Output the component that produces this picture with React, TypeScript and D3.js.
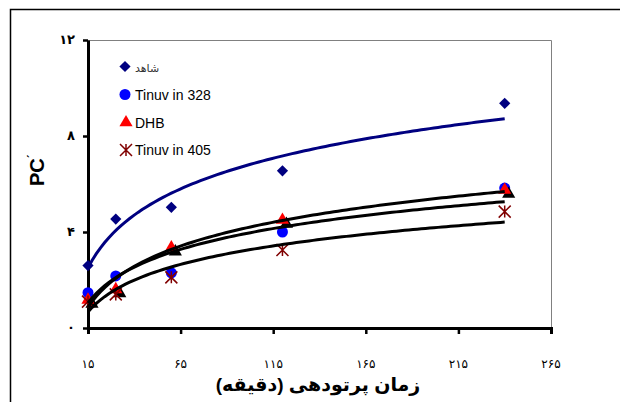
import React, { useEffect, useRef } from "react";
import * as d3 from "d3";

// irradiation time (minutes)
const times = [15, 30, 60, 120, 240];
// PC values per sample
const control = [2.6, 4.54, 5.03, 6.55, 9.36];
const tinuvin328 = [1.47, 2.17, 2.3, 4.0, 5.83];
const dhb = [1.17, 1.61, 3.35, 4.5, 5.75];
const tinuvin405 = [1.1, 1.4, 2.11, 3.25, 4.85];

const seriesNames = ["شاهد", "Tinuv in 328", "DHB", "Tinuv in 405"];
const xTicks = [15, 65, 115, 165, 215, 265];
const yTicks = [0, 4, 8, 12];

const FONT = "'Liberation Sans', Arial, 'DejaVu Sans', sans-serif";

const toPersian = (n: number) => String(n).replace(/[0-9]/g, (d) => "۰۱۲۳۴۵۶۷۸۹"[+d]);

// excel-style logarithmic trendline: y = a*ln(x) + b
function logFit(xs: number[], ys: number[]) {
  const lx = xs.map((v) => Math.log(v));
  const mx = d3.mean(lx) as number;
  const my = d3.mean(ys) as number;
  let num = 0, den = 0;
  lx.forEach((v, i) => {
    num += (v - mx) * (ys[i] - my);
    den += (v - mx) * (v - mx);
  });
  const a = num / den;
  const b = my - a * mx;
  return (x: number) => a * Math.log(x) + b;
}

export default function App() {
  const ref = useRef<SVGSVGElement>(null);

  useEffect(() => {
    const svg = d3.select(ref.current);
    svg.selectAll("*").remove();

    const x = d3.scaleLinear().domain([15, 265]).range([88, 551]);
    const y = d3.scaleLinear().domain([0, 12]).range([328, 40]);

    // outer chart border (cropped)
    svg.append("rect").attr("x", 10.5).attr("y", 9.5).attr("width", 700).attr("height", 500)
      .attr("fill", "none").attr("stroke", "#000").attr("stroke-width", 1.5);

    // plot area frame top/right
    svg.append("path")
      .attr("d", `M${x(15)},${y(12) + 0.5}H${x(265) + 0.5}V${y(0)}`)
      .attr("fill", "none").attr("stroke", "#808080").attr("stroke-width", 1);

    // axes
    const xAxis = svg.append("g").attr("transform", `translate(0,${y(0)})`)
      .call(d3.axisBottom(x).tickValues(xTicks).tickSize(6).tickFormat(() => ""));
    xAxis.select(".domain").attr("stroke-width", 3);
    xAxis.selectAll(".tick line").attr("stroke-width", 2.5);

    const yAxis = svg.append("g").attr("transform", `translate(${x(15)},0)`)
      .call(d3.axisLeft(y).tickValues(yTicks).tickSize(5).tickFormat(() => "").tickSizeOuter(0));
    yAxis.select(".domain").attr("stroke-width", 3);
    yAxis.selectAll(".tick line").attr("stroke-width", 2.5);

    svg.selectAll(".xlab").data(xTicks).join("text").attr("class", "xlab")
      .attr("x", (d) => x(d)).attr("y", 368).attr("text-anchor", "middle")
      .style("font-family", FONT).style("font-size", "12px")
      .text((d) => toPersian(d));

    svg.selectAll(".ylab").data(yTicks).join("text").attr("class", "ylab")
      .attr("x", 75).attr("y", (d) => y(d) + 4).attr("text-anchor", "end")
      .style("font-family", FONT).style("font-size", "13px").style("font-weight", "bold")
      .text((d) => toPersian(d));

    // axis titles
    svg.append("text").attr("x", 318).attr("y", 391).attr("text-anchor", "middle")
      .style("font-family", FONT).style("font-size", "19px").style("font-weight", "bold")
      .attr("direction", "rtl")
      .text("زمان پرتودهی (دقیقه)");

    const yt = svg.append("text").attr("transform", "translate(44,186) rotate(-90)")
      .style("font-family", FONT).style("font-size", "20px").style("font-weight", "bold");
    yt.append("tspan").text("PC");
    yt.append("tspan").style("font-size", "12px").attr("dy", -7).text("ˊ");

    const pts = (vals: number[]) => times.map((t, i) => ({ t, v: vals[i] }));

    // markers
    const diamond = d3.symbol(d3.symbolDiamond2, 80);
    svg.selectAll(".dia").data(pts(control)).join("path").attr("class", "dia")
      .attr("d", diamond).attr("transform", (d) => `translate(${x(d.t)},${y(d.v)})`)
      .attr("fill", "#000080");

    svg.selectAll(".cir").data(pts(tinuvin328)).join("circle").attr("class", "cir")
      .attr("cx", (d) => x(d.t)).attr("cy", (d) => y(d.v)).attr("r", 5.5)
      .attr("fill", "#0000ff");

    const tri = d3.symbol(d3.symbolTriangle, 75);
    svg.selectAll(".trs").data(pts(dhb)).join("path").attr("class", "trs")
      .attr("d", tri).attr("transform", (d) => `translate(${x(d.t) + 4},${y(d.v) + 4})`)
      .attr("fill", "#000");
    svg.selectAll(".tri").data(pts(dhb)).join("path").attr("class", "tri")
      .attr("d", tri).attr("transform", (d) => `translate(${x(d.t)},${y(d.v)})`)
      .attr("fill", "#ff0000");

    const star = (cx: number, cy: number) => {
      const r = 6;
      return `M${cx - r},${cy - r}L${cx + r},${cy + r}M${cx - r},${cy + r}L${cx + r},${cy - r}M${cx},${cy - r}V${cy + r}`;
    };
    svg.selectAll(".ast").data(pts(tinuvin405)).join("path").attr("class", "ast")
      .attr("d", (d) => star(x(d.t), y(d.v)))
      .attr("stroke", "#800000").attr("stroke-width", 1.5).attr("fill", "none");

    // trendlines
    const samples = d3.range(0, 101).map((i) => 15 + (225 * i) / 100);
    const line = d3.line<number>().x((t) => x(t));
    const fits = [
      { vals: control, color: "#000080", w: 3 },
      { vals: tinuvin328, color: "#000", w: 3 },
      { vals: dhb, color: "#000", w: 3 },
      { vals: tinuvin405, color: "#000", w: 3 },
    ];
    fits.forEach((f) => {
      const fn = logFit(times, f.vals);
      svg.append("path").datum(samples)
        .attr("d", line.y((t) => y(fn(t)))(samples))
        .attr("fill", "none").attr("stroke", f.color).attr("stroke-width", f.w);
    });

    // legend
    const lg = svg.append("g");
    const rows = [66.5, 94.5, 122.5, 150];
    lg.append("path").attr("d", diamond).attr("transform", `translate(125,${rows[0]})`).attr("fill", "#000080");
    lg.append("circle").attr("cx", 125).attr("cy", rows[1]).attr("r", 5.5).attr("fill", "#0000ff");
    lg.append("path").attr("d", tri).attr("transform", `translate(126,${rows[2]})`).attr("fill", "#ff0000");
    lg.append("path").attr("d", star(126, rows[3])).attr("stroke", "#800000").attr("stroke-width", 1.5).attr("fill", "none");
    lg.selectAll("text").data(seriesNames).join("text")
      .attr("x", 135).attr("y", (_, i) => rows[i] + 5)
      .style("font-family", FONT)
      .style("font-size", (_, i) => (i === 0 ? "11px" : "14px"))
      .attr("fill", (_, i) => (i === 0 ? "#333" : "#000"))
      .text((d) => d);
  }, []);

  return (
    <svg ref={ref} width={620} height={402}
      style={{ position: "absolute", left: 0, top: 0, background: "#fff" }} />
  );
}
